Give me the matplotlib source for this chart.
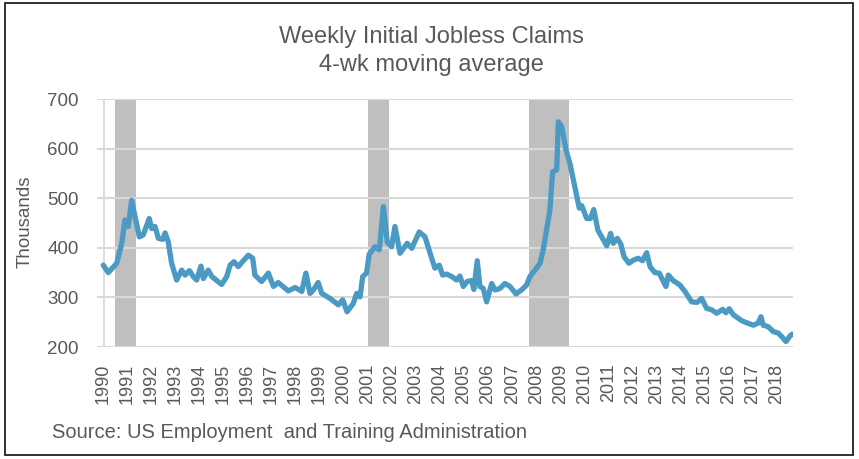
import matplotlib
matplotlib.use("Agg")
import matplotlib.pyplot as plt
from matplotlib.patches import Rectangle

# ---- data ----
years = [1990.01, 1990.22, 1990.57, 1990.78, 1990.91, 1991.05, 1991.19, 1991.33, 1991.51, 1991.67,
         1991.92, 1992.02, 1992.16, 1992.30, 1992.48, 1992.58, 1992.71, 1992.85, 1993.06, 1993.27,
         1993.41, 1993.59, 1993.75, 1993.89, 1994.07, 1994.17, 1994.37, 1994.52, 1994.93, 1995.14,
         1995.28, 1995.44, 1995.62, 1995.83, 1996.04, 1996.22, 1996.31, 1996.59, 1996.87, 1997.08,
         1997.28, 1997.70, 1997.98, 1998.26, 1998.43, 1998.60, 1998.74, 1998.94, 1999.09, 1999.43,
         1999.78, 1999.96, 2000.14, 2000.40, 2000.54, 2000.68, 2000.79, 2000.95, 2001.06, 2001.30,
         2001.48, 2001.65, 2001.81, 2001.99, 2002.13, 2002.34, 2002.64, 2002.83, 2003.14, 2003.38,
         2003.59, 2003.79, 2003.97, 2004.11, 2004.28, 2004.49, 2004.69, 2004.83, 2004.97, 2005.13,
         2005.32, 2005.41, 2005.55, 2005.66, 2005.80, 2005.94, 2006.15, 2006.29, 2006.49, 2006.70,
         2006.91, 2007.16, 2007.39, 2007.60, 2007.74, 2007.95, 2008.16, 2008.29, 2008.43, 2008.57,
         2008.68, 2008.85, 2008.92, 2009.06, 2009.24, 2009.40, 2009.61, 2009.79, 2009.89, 2010.10,
         2010.25, 2010.39, 2010.48, 2010.56, 2010.72, 2010.93, 2011.09, 2011.20, 2011.37, 2011.51,
         2011.65, 2011.85, 2012.03, 2012.24, 2012.42, 2012.59, 2012.73, 2012.93, 2013.11, 2013.39,
         2013.49, 2013.69, 2013.97, 2014.18, 2014.46, 2014.69, 2014.87, 2015.08, 2015.29, 2015.50,
         2015.75, 2015.88, 2016.02, 2016.19, 2016.54, 2016.74, 2017.02, 2017.22, 2017.34, 2017.43,
         2017.64, 2017.85, 2018.06, 2018.20, 2018.38, 2018.54, 2018.64]
claims = [365, 350, 369, 409, 456, 443, 496, 463, 422, 426,
          459, 439, 443, 419, 417, 430, 412, 369, 335, 355,
          345, 354, 342, 335, 363, 338, 355, 342, 326, 342,
          365, 372, 362, 374, 385, 379, 345, 332, 349, 322,
          330, 313, 320, 312, 349, 308, 315, 330, 308, 298,
          285, 295, 271, 288, 308, 301, 342, 349, 387, 402,
          396, 483, 412, 402, 443, 389, 409, 399, 432, 422,
          389, 359, 365, 345, 347, 342, 335, 343, 322, 332,
          334, 316, 374, 322, 318, 291, 328, 315, 318, 328,
          322, 307, 315, 325, 342, 355, 369, 396, 436, 476,
          553, 557, 654, 644, 597, 570, 522, 480, 485, 459,
          459, 477, 456, 436, 422, 404, 429, 409, 419, 408,
          382, 369, 375, 379, 374, 390, 362, 350, 349, 322,
          345, 334, 325, 312, 291, 290, 298, 278, 275, 268,
          276, 269, 277, 265, 253, 249, 244, 248, 261, 244,
          241, 231, 228, 221, 211, 222, 226]

recession_start = [1990.50, 2001.00, 2007.70]
recession_end = [1991.37, 2001.87, 2009.37]

tick_years = list(range(1990, 2019))
tick_labels = [str(y) for y in tick_years]
y_ticks = [200, 300, 400, 500, 600, 700]

title_text = "Weekly Initial Jobless Claims\n4-wk moving average"
ylabel_text = "Thousands"
source_text = "Source: US Employment  and Training Administration"

# ---- styling ----
plt.rcParams['font.family'] = ['Liberation Sans', 'DejaVu Sans']
TXT = '#595959'
GRID = '#D9D9D9'
LINE = '#4A9AC4'
SHADE = '#BFBFBF'

W, H = 859, 459
fig = plt.figure(figsize=(W / 100, H / 100), dpi=100)
ax = fig.add_axes([97 / W, 1 - 347 / H, (793 - 97) / W, (347 - 99) / H])

ax.set_xlim(1989.75, 2018.67)
ax.set_ylim(200, 700)

for s, e in zip(recession_start, recession_end):
    ax.axvspan(s, e, ymin=0, ymax=1, color=SHADE, lw=0, zorder=1)

ax.set_yticks(y_ticks)
ax.yaxis.grid(True, color=GRID, lw=1.5, zorder=0)
ax.axvline(1990.04, color=GRID, lw=1.3, zorder=0.5)

ax.plot(years, claims, color=LINE, lw=3.8, solid_joinstyle='round',
        solid_capstyle='round', zorder=3)

for sp in ax.spines.values():
    sp.set_visible(False)

ax.set_xticks(tick_years)
ax.set_xticklabels(tick_labels, rotation=90, fontsize=13, color=TXT)
ax.tick_params(axis='x', length=0, pad=12)
ax.tick_params(axis='y', length=0, pad=13, labelsize=13.5, labelcolor=TXT)

fig.text(25 / W, 1 - 222 / H, ylabel_text, rotation=90, fontsize=13.5,
         color=TXT, ha='center', va='center')
fig.text(431 / W, 1 - 51 / H, title_text, fontsize=17, color=TXT,
         ha='center', va='center', linespacing=1.38)
fig.text(52 / W, 1 - 432 / H, source_text, fontsize=14.5, color=TXT,
         ha='left', va='center')

fig.patches.append(Rectangle((5 / W, 1 - 455 / H), (853 - 5) / W, (455 - 3) / H,
                             transform=fig.transFigure, fill=False,
                             edgecolor='#222222', lw=1.3))

fig.savefig('out.png', dpi=100)
